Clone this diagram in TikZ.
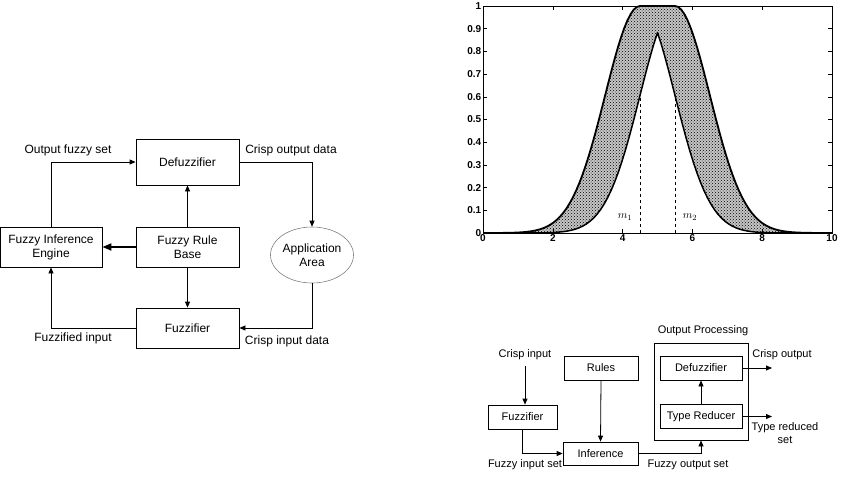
\documentclass[tikz,border=0pt]{standalone}
\usepackage{fontspec}
\setmainfont{Liberation Sans}
\usetikzlibrary{arrows.meta,shapes.geometric,patterns}

\begin{document}
\begin{tikzpicture}[x=1pt,y=-1pt,
	blk/.style={draw=black,line width=0.8pt,minimum width=103pt,minimum height=40pt,inner sep=1pt,align=center,font=\fontsize{12}{14}\selectfont},
	sblk/.style={draw=black,line width=0.8pt,minimum height=24pt,inner sep=1pt,align=center,font=\fontsize{11}{13}\selectfont},
	lbl/.style={inner sep=0pt,align=center,font=\fontsize{12}{14}\selectfont},
	slbl/.style={inner sep=0pt,align=center,font=\fontsize{11}{13}\selectfont},
	arr/.style={-{Triangle[length=6pt,width=5pt]},line width=0.8pt},
	tck/.style={inner sep=1.5pt,font=\fontsize{10}{11}\selectfont\bfseries}]
	\useasboundingbox (0,0) rectangle (842,497);

	% fuzzy logic system
	\node[blk,minimum height=46pt] (defz) at (187.5,162) {Defuzzifier};
	\node[blk,minimum width=102pt] (fie) at (51,247) {Fuzzy Inference\\Engine};
	\node[blk] (frb) at (187.5,247) {Fuzzy Rule\\Base};
	\node[blk] (fuzz) at (187.5,328) {Fuzzifier};
	\node[draw=gray,line width=0.6pt,ellipse,minimum width=76pt,minimum height=56pt,inner sep=0pt,align=center,font=\fontsize{12}{14}\selectfont] (app) at (312,255) {Application\\Area};
	\draw[arr] (fie.north) |- (defz.west);
	\draw[arr] (defz.east) -| (app.north);
	\draw[arr] (frb.north) -- (defz.south);
	\draw[-{Triangle[length=9pt,width=7pt]},line width=1.8pt] (frb.west) -- (fie.east);
	\draw[arr] (frb.south) -- (fuzz.north);
	\draw[arr] (app.south) |- (fuzz.east);
	\draw[arr] (fuzz.west) -| (fie.south);
	\node[lbl] (ofs) at (68,150) {Output fuzzy set};
	\node[lbl] (cod) at (291,150) {Crisp output data};
	\node[lbl] (fin) at (73,338) {Fuzzified input};
	\node[lbl] (cid) at (287,341) {Crisp input data};

	% interval type-2 membership function
	\begin{scope}[shift={(483,233)},x=34.9pt,y=227pt]
		\begin{scope}
			\clip (0,0) rectangle (10,1);
			\path[fill=gray!45,postaction={pattern=crosshatch dots}]
				plot[domain=0:4.5,samples=50] (\x,{exp(-((\x-4.5)^2)/2)}) -- (5.5,1)
				-- plot[domain=5.5:10,samples=50] (\x,{exp(-((\x-5.5)^2)/2)})
				-- plot[domain=10:5,samples=50] (\x,{exp(-((\x-4.5)^2)/2)})
				-- plot[domain=5:0,samples=50] (\x,{exp(-((\x-5.5)^2)/2)}) -- cycle;
			\draw[line width=1.8pt,line join=round]
				plot[domain=0:4.5,samples=50] (\x,{exp(-((\x-4.5)^2)/2)}) -- (5.5,1)
				-- plot[domain=5.5:10,samples=50] (\x,{exp(-((\x-5.5)^2)/2)});
			\draw[line width=1.5pt,line join=round]
				plot[domain=0:5,samples=50] (\x,{exp(-((\x-5.5)^2)/2)})
				-- plot[domain=5:10,samples=50] (\x,{exp(-((\x-4.5)^2)/2)});
		\end{scope}
		\draw[dashed,line width=0.9pt] (4.5,0) -- (4.5,{exp(-0.5)});
		\draw[dashed,line width=0.6pt] (5.5,0) -- (5.5,{exp(-0.5)});
		\draw[line width=0.8pt] (0,0) rectangle (10,1);
		\foreach \t in {0,2,...,10} {
			\draw[line width=0.6pt] (\t,0) -- ++(0pt,4pt);
			\draw[line width=0.6pt] (\t,1) -- ++(0pt,-4pt);
			\node[tck,below] (xt\t) at (\t,0) {\t};
		}
		\foreach \v/\l in {0/0,1/0.1,2/0.2,3/0.3,4/0.4,5/0.5,6/0.6,7/0.7,8/0.8,9/0.9,10/1} {
			\draw[line width=0.6pt] (0,\v/10) -- ++(4pt,0pt);
			\draw[line width=0.6pt] (10,\v/10) -- ++(-4pt,0pt);
			\node[tck,left] (yt\v) at (0,\v/10) {\l};
		}
		\node[font=\fontsize{11}{13}\selectfont] (m1) at (4.07,0.07) {$m_1$};
		\node[font=\fontsize{11}{13}\selectfont] (m2) at (5.93,0.07) {$m_2$};
	\end{scope}

	% type-2 fuzzy logic system
	\node[slbl] (opl) at (703,331) {Output Processing};
	\node[draw=black,line width=0.8pt,minimum width=94pt,minimum height=97pt,inner sep=0pt] (outp) at (701,391.5) {};
	\node[sblk,minimum width=82pt] (defz2) at (701,368) {Defuzzifier};
	\node[sblk,minimum width=82pt] (tred) at (701,416.5) {Type Reducer};
	\node[sblk,minimum width=69pt] (fuzz2) at (522.5,417) {Fuzzifier};
	\node[sblk,minimum width=74pt] (rules) at (601,368) {Rules};
	\node[sblk,minimum width=75pt,minimum height=23pt] (infr) at (600.5,453.5) {Inference};
	\node[slbl] (cin) at (525,355) {Crisp input};
	\coordinate (cout) at (772,368);
	\coordinate (trout) at (772,416.5);
	\draw[arr,shorten <=6pt] (cin.south) -- (cin.south |- fuzz2.north);
	\draw[arr] (rules.south) -- (infr.north);
	\draw[arr] (fuzz2.south) |- (infr.west);
	\draw[arr] (infr.east) -| (outp.south);
	\draw[arr] (tred.north) -- (defz2.south);
	\draw[arr] (defz2.east) -- (cout);
	\draw[arr] (tred.east) -- (trout);
	\node[slbl] (col) at (782,355) {Crisp output};
	\node[slbl] (trl) at (785,433) {Type reduced\\set};
	\node[slbl] (fil) at (525,465) {Fuzzy input set};
	\node[slbl] (fol) at (688,465) {Fuzzy output set};
\end{tikzpicture}
\end{document}
